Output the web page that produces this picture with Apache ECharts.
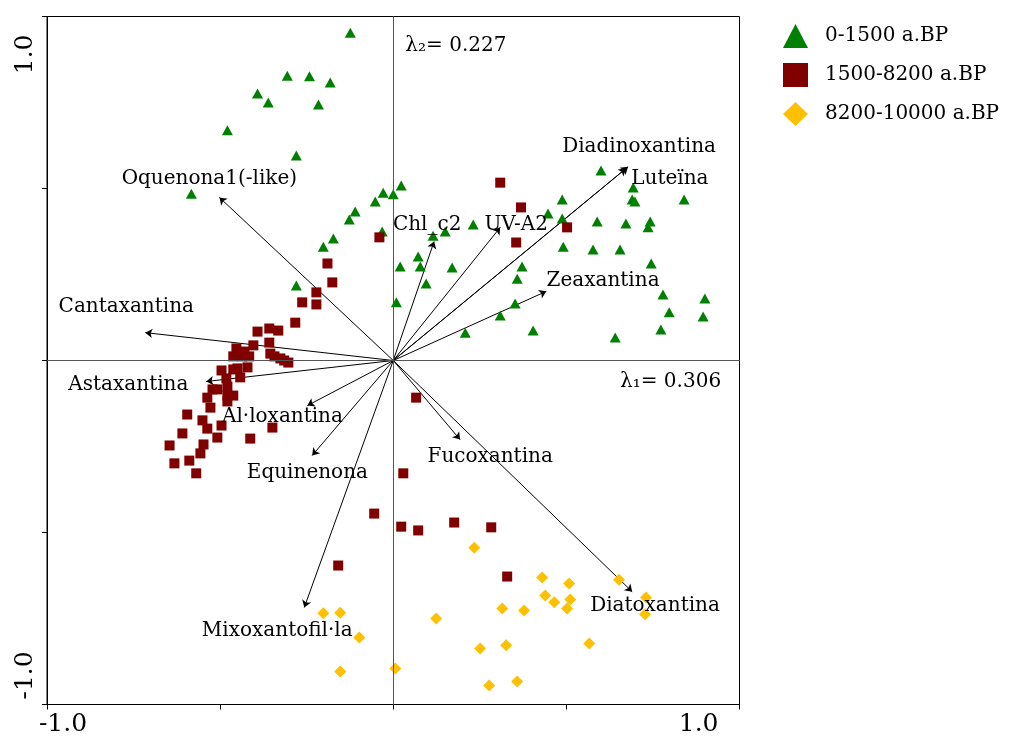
<!DOCTYPE html>
<html><head><meta charset="utf-8">
<script src="https://cdn.jsdelivr.net/npm/echarts@6/dist/echarts.min.js"></script>
<style>html,body{margin:0;padding:0;background:#fff}#c{width:1010px;height:742px}</style>
</head><body><div id="c"></div>
<script>
// ---- data ----
const groupNames = ['0-1500 a.BP', '1500-8200 a.BP', '8200-10000 a.BP'];

const group0to1500 = [
  [-0.124,0.953],[-0.306,0.828],[-0.242,0.826],[-0.182,0.808],[-0.392,0.776],[-0.361,0.750],[-0.216,0.744],
  [-0.479,0.669],[-0.280,0.596],[-0.583,0.485],[-0.029,0.488],[0.000,0.483],[0.023,0.509],[-0.052,0.462],
  [-0.110,0.433],[-0.127,0.410],[-0.173,0.355],[-0.202,0.331],[-0.280,0.218],[-0.032,0.375],[0.115,0.363],
  [0.150,0.375],[0.231,0.395],[0.072,0.302],[0.020,0.273],[0.078,0.273],[0.170,0.270],[0.095,0.224],
  [0.009,0.169],[0.372,0.273],[0.358,0.238],[0.352,0.166],[0.309,0.131],[0.208,0.081],[0.404,0.087],
  [0.600,0.552],[0.693,0.503],[0.488,0.468],[0.690,0.468],[0.698,0.462],[0.840,0.468],[0.447,0.427],
  [0.488,0.413],[0.589,0.404],[0.672,0.398],[0.742,0.404],[0.736,0.387],[0.491,0.331],[0.577,0.323],
  [0.655,0.323],[0.745,0.282],[0.779,0.192],[0.900,0.180],[0.797,0.140],[0.895,0.128],[0.773,0.090],
  [0.641,0.067]
];

const group1500to8200 = [
  [0.309,0.517],[0.369,0.445],[0.355,0.343],[0.502,0.387],[-0.040,0.358],[-0.190,0.282],[-0.176,0.227],
  [-0.222,0.198],[-0.263,0.169],[-0.222,0.163],[-0.283,0.110],[-0.392,0.084],[-0.358,0.093],[-0.332,0.087],
  [-0.358,0.052],[-0.404,0.044],[-0.430,0.026],[-0.453,0.035],[-0.462,0.012],[-0.436,0.012],[-0.416,0.012],
  [-0.355,0.020],[-0.343,0.012],[-0.326,0.006],[-0.315,0.000],[-0.303,-0.006],[-0.496,-0.029],[-0.462,-0.026],
  [-0.450,-0.023],[-0.421,-0.020],[-0.442,-0.049],[-0.482,-0.052],[-0.522,-0.084],[-0.508,-0.084],[-0.479,-0.076],
  [-0.479,-0.102],[-0.462,-0.102],[-0.537,-0.108],[-0.479,-0.119],[-0.528,-0.137],[-0.595,-0.157],[-0.551,-0.174],
  [-0.496,-0.189],[-0.609,-0.212],[-0.537,-0.198],[-0.349,-0.195],[-0.508,-0.224],[-0.413,-0.227],[-0.646,-0.247],
  [-0.548,-0.244],[-0.557,-0.270],[-0.589,-0.291],[-0.632,-0.299],[-0.569,-0.328],[0.066,-0.108],[0.029,-0.328],
  [-0.055,-0.445],[0.023,-0.483],[0.072,-0.494],[0.176,-0.471],[0.283,-0.485],[-0.159,-0.596],[0.329,-0.628]
];

const group8200to10000 = [
  [0.234,-0.544],[-0.202,-0.735],[-0.153,-0.733],[-0.098,-0.805],[-0.153,-0.904],[0.006,-0.895],[0.124,-0.750],
  [0.315,-0.721],[0.378,-0.727],[0.251,-0.837],[0.326,-0.828],[0.277,-0.945],[0.358,-0.933],[0.430,-0.631],
  [0.508,-0.648],[0.439,-0.683],[0.465,-0.703],[0.511,-0.695],[0.502,-0.721],[0.652,-0.637],[0.730,-0.689],
  [0.727,-0.738],[0.566,-0.823]
];

const vectorNames = ['Oquenona1(-like)','Cantaxantina','Astaxantina','Al·loxantina','Equinenona','Mixoxantofil·la',
  'Fucoxantina','Diatoxantina','Chl_c2','UV-A2','Diadinoxantina','Luteïna','Zeaxantina'];
const vectorEnds = [[-0.502,0.474],[-0.716,0.081],[-0.540,-0.061],[-0.248,-0.131],[-0.234,-0.276],[-0.257,-0.718],
  [0.193,-0.230],[0.690,-0.672],[0.118,0.346],[0.309,0.387],[0.678,0.563],[0.672,0.558],[0.442,0.201]];
const vectorLabelAt = [[-0.531,0.529],[-0.771,0.157],[-0.765,-0.070],[-0.320,-0.163],[-0.248,-0.326],[-0.335,-0.785],
  [0.280,-0.279],[0.756,-0.712],[0.098,0.395],[0.355,0.395],[0.710,0.622],[0.799,0.529],[0.606,0.233]];

const eigenLabels = ['λ₂= 0.227', 'λ₁= 0.306'];
const eigenLabelAt = [[0.035,0.916],[0.655,-0.061]];

const axisMin = -1, axisMax = 1, axisStep = 0.5;
const tickLabels = {'-1': '-1.0', '1': '1.0'};

// ---- chart ----
const FONT = 'DejaVu Serif';
const chart = echarts.init(document.getElementById('c'), null, {renderer: 'canvas'});

function axisDef(isY) {
  return {
    type: 'value',
    min: axisMin, max: axisMax, interval: axisStep,
    axisLine: {show: true, onZero: false, lineStyle: {color: '#000', width: 1}},
    axisTick: {show: true, inside: false, length: 5, lineStyle: {color: '#000'}},
    splitLine: {show: false},
    axisLabel: {
      show: true, fontFamily: FONT, fontSize: 25, color: '#000',
      rotate: isY ? 90 : 0, margin: isY ? 9 : 7,
      showMinLabel: true, showMaxLabel: true,
      alignMinLabel: isY ? 'left' : 'center',
      alignMaxLabel: 'right',
      formatter: v => {
        const t = tickLabels[String(v)];
        if (!t) return '';
        return (v < 0 ? '{lo|' : '{hi|') + t + '}';
      },
      rich: isY ? {
        lo: {fontFamily: FONT, fontSize: 25, color: '#000', padding: [0, 0, 0, 5]},
        hi: {fontFamily: FONT, fontSize: 25, color: '#000', padding: [0, 18, 0, 0]}
      } : {
        lo: {fontFamily: FONT, fontSize: 25, color: '#000', padding: [0, 0, 0, 32]},
        hi: {fontFamily: FONT, fontSize: 25, color: '#000', padding: [0, 21, 0, 0]}
      }
    }
  };
}

chart.setOption({
  animation: false,
  backgroundColor: '#fff',
  grid: {left: 47, top: 16.5, width: 692.5, height: 688, show: true, borderColor: '#000', borderWidth: 1, containLabel: false},
  xAxis: axisDef(false),
  yAxis: axisDef(true),
  legend: {
    data: groupNames,
    orient: 'vertical', left: 778, top: 19,
    itemWidth: 25, itemHeight: 24, itemGap: 15,
    textStyle: {fontFamily: FONT, fontSize: 20, color: '#000', padding: [0, 0, 0, 12]}
  },
  series: [
    {
      type: 'lines', coordinateSystem: 'cartesian2d', silent: true, z: 2,
      symbol: ['none', 'arrow'], symbolSize: 7,
      lineStyle: {color: '#000', width: 1, opacity: 1},
      data: vectorEnds.map(e => ({coords: [[0, 0], e]}))
    },
    {
      name: groupNames[0], type: 'scatter', symbol: 'triangle', symbolSize: [11, 10], z: 3,
      itemStyle: {color: '#008000', opacity: 1}, data: group0to1500
    },
    {
      name: groupNames[1], type: 'scatter', symbol: 'rect', symbolSize: 10, z: 3,
      itemStyle: {color: '#800000', opacity: 1}, data: group1500to8200
    },
    {
      name: groupNames[2], type: 'scatter', symbol: 'diamond', symbolSize: 12, z: 3,
      itemStyle: {color: '#FFC000', opacity: 1}, data: group8200to10000
    },
    {
      type: 'scatter', silent: true, z: 4, symbolSize: 0,
      itemStyle: {color: 'rgba(0,0,0,0)', opacity: 1},
      label: {show: true, position: 'inside', formatter: p => p.name, fontFamily: FONT, fontSize: 20, color: '#000', opacity: 1},
      data: vectorNames.map((n, i) => ({name: n, value: vectorLabelAt[i]}))
        .concat(eigenLabels.map((n, i) => ({name: n, value: eigenLabelAt[i], label: {align: 'left'}}))),
      markLine: {
        silent: true, symbol: 'none', label: {show: false},
        lineStyle: {color: '#555', width: 1, type: 'solid'},
        data: [{xAxis: 0}, {yAxis: 0}]
      }
    }
  ]
});
</script></body></html>
